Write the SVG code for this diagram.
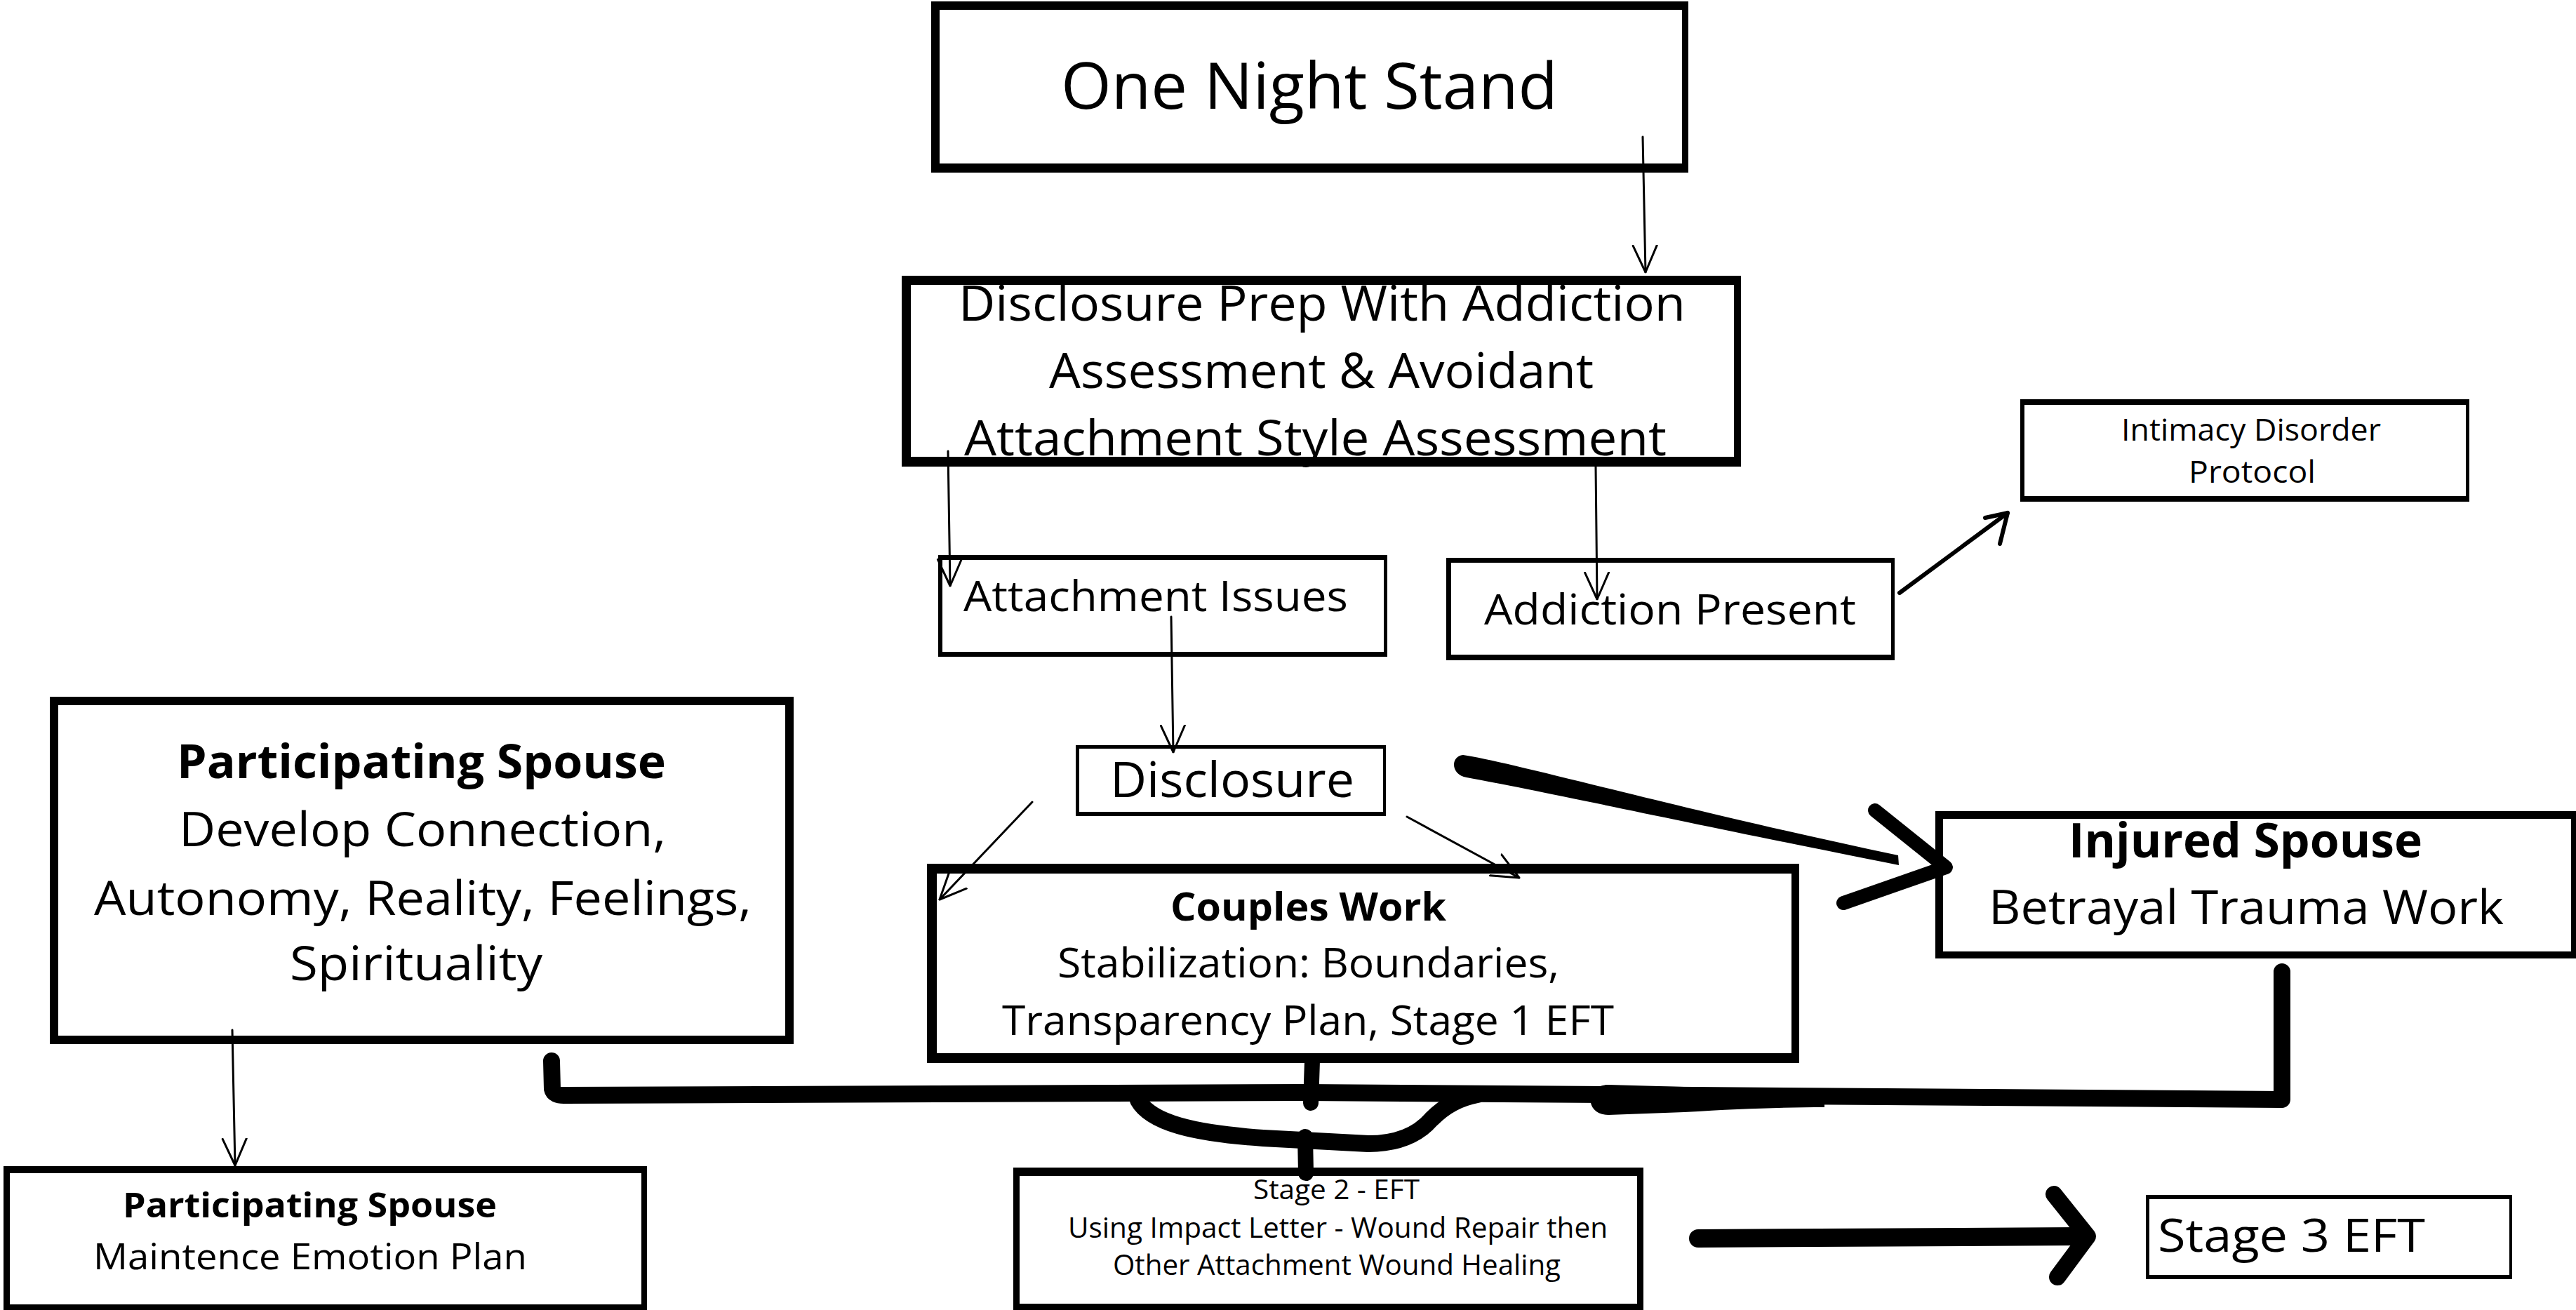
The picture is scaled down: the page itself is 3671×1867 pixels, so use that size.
<svg xmlns="http://www.w3.org/2000/svg" width="3671" height="1867" viewBox="0 0 3671 1867">
<defs>
<style>
.frame{fill:#000;fill-rule:evenodd;stroke:none}
text{font-family:"Open Sans","Noto Sans","Liberation Sans",sans-serif;fill:#000}
.b{font-weight:700}
.thin{fill:none;stroke:#000;stroke-width:3;stroke-linecap:round;marker-end:url(#v)}
.head{fill:none;stroke:#000;stroke-linecap:round;stroke-linejoin:round}
.brush{fill:none;stroke:#000;stroke-linecap:round;stroke-linejoin:round}
</style>
<marker id="v" markerUnits="userSpaceOnUse" viewBox="0 0 40 40" markerWidth="40" markerHeight="40" refX="39" refY="20" orient="auto">
<path d="M1,3 L39,20 L1,37" fill="none" stroke="#000" stroke-width="3" stroke-linecap="round" stroke-linejoin="round"/>
</marker>
</defs>
<rect width="3671" height="1867" fill="#fff"/>

<g id="node-one-night-stand">
<path class="frame" d="M1327,2 H2406 V246 H1327 Z M1339,14 V233 H2397 V14 Z"/>
<text x="1512" y="155" font-size="91" textLength="708" lengthAdjust="spacingAndGlyphs">One Night Stand</text>
</g>

<g id="node-disclosure-prep">
<path class="frame" d="M1285,393 H2481 V665 H1285 Z M1298,406 V651 H2471 V406 Z"/>
<text x="1366" y="457" font-size="69" textLength="1036" lengthAdjust="spacingAndGlyphs">Disclosure Prep With Addiction</text>
<text x="1495" y="553" font-size="69" textLength="776" lengthAdjust="spacingAndGlyphs">Assessment &amp; Avoidant</text>
<text x="1374" y="649" font-size="69" textLength="1001" lengthAdjust="spacingAndGlyphs">Attachment Style Assessment</text>
</g>

<g id="node-attachment-issues">
<path class="frame" d="M1337,791 H1977 V936 H1337 Z M1343,798 V929 H1972 V798 Z"/>
<text x="1373" y="871" font-size="61" textLength="548" lengthAdjust="spacingAndGlyphs">Attachment Issues</text>
</g>

<g id="node-addiction-present">
<path class="frame" d="M2061,795 H2700 V941 H2061 Z M2068,802 V933 H2695 V802 Z"/>
<text x="2115" y="890" font-size="61" textLength="530" lengthAdjust="spacingAndGlyphs">Addiction Present</text>
</g>

<g id="node-intimacy-disorder">
<path class="frame" d="M2879,569 H3519 V715 H2879 Z M2885,577 V707 H3514 V577 Z"/>
<text x="3023" y="628" font-size="43" textLength="370" lengthAdjust="spacingAndGlyphs">Intimacy Disorder</text>
<text x="3119" y="688" font-size="43" textLength="181" lengthAdjust="spacingAndGlyphs">Protocol</text>
</g>

<g id="node-participating-spouse">
<path class="frame" d="M71,993 H1131 V1488 H71 Z M83,1005 V1476 H1119 V1005 Z"/>
<text class="b" x="252" y="1109" font-size="66" textLength="697" lengthAdjust="spacingAndGlyphs">Participating Spouse</text>
<text x="255" y="1206" font-size="67" textLength="694" lengthAdjust="spacingAndGlyphs">Develop Connection,</text>
<text x="134" y="1304" font-size="67" textLength="937" lengthAdjust="spacingAndGlyphs">Autonomy, Reality, Feelings,</text>
<text x="413" y="1397" font-size="67" textLength="360" lengthAdjust="spacingAndGlyphs">Spirituality</text>
</g>

<g id="node-participating-maintenance">
<path class="frame" d="M5,1662 H922 V1867 H5 Z M14,1672 V1859 H914 V1672 Z"/>
<text class="b" x="175" y="1735" font-size="49" textLength="533" lengthAdjust="spacingAndGlyphs">Participating Spouse</text>
<text x="133" y="1809" font-size="52" textLength="618" lengthAdjust="spacingAndGlyphs">Maintence Emotion Plan</text>
</g>

<g id="node-disclosure">
<path class="frame" d="M1533,1062 H1975 V1163 H1533 Z M1538,1067 V1157 H1971 V1067 Z"/>
<text x="1582" y="1136" font-size="70" textLength="348" lengthAdjust="spacingAndGlyphs">Disclosure</text>
</g>

<g id="node-couples-work">
<path class="frame" d="M1321,1231 H2564 V1515 H1321 Z M1335,1245 V1501 H2553 V1245 Z"/>
<text class="b" x="1668" y="1312" font-size="56" textLength="393" lengthAdjust="spacingAndGlyphs">Couples Work</text>
<text x="1507" y="1393" font-size="58" textLength="715" lengthAdjust="spacingAndGlyphs">Stabilization: Boundaries,</text>
<text x="1428" y="1475" font-size="58" textLength="872" lengthAdjust="spacingAndGlyphs">Transparency Plan, Stage 1 EFT</text>
</g>

<g id="node-injured-spouse">
<path class="frame" d="M2758,1156 H3671 V1366 H2758 Z M2769,1167 V1356 H3664 V1167 Z"/>
<text class="b" x="2948" y="1222" font-size="68" textLength="504" lengthAdjust="spacingAndGlyphs">Injured Spouse</text>
<text x="2834" y="1317" font-size="68" textLength="734" lengthAdjust="spacingAndGlyphs">Betrayal Trauma Work</text>
</g>

<g id="node-stage2">
<path class="frame" d="M1444,1664 H2342 V1867 H1444 Z M1453,1676 V1858 H2333 V1676 Z"/>
<text x="1786" y="1709" font-size="38" textLength="237" lengthAdjust="spacingAndGlyphs">Stage 2 - EFT</text>
<text x="1522" y="1764" font-size="40" textLength="769" lengthAdjust="spacingAndGlyphs">Using Impact Letter - Wound Repair then</text>
<text x="1586" y="1817" font-size="40" textLength="638" lengthAdjust="spacingAndGlyphs">Other Attachment Wound Healing</text>
</g>

<g id="node-stage3">
<path class="frame" d="M3058,1703 H3580 V1823 H3058 Z M3063,1709 V1817 H3576 V1709 Z"/>
<text x="3075" y="1784" font-size="66" textLength="381" lengthAdjust="spacingAndGlyphs">Stage 3 EFT</text>
</g>

<g id="connectors">
<path class="thin" d="M2341,195 L2345,388"/>
<path class="thin" d="M1351,643 L1354,835"/>
<path class="thin" d="M2274,665 L2276,854"/>
<path class="thin" d="M1669,879 L1672,1072"/>
<path class="thin" d="M331,1468 L335,1661"/>
<path class="thin" d="M1471,1143 L1339,1282"/>
<path class="thin" stroke-width="4" d="M2005,1164 L2165,1251"/>
<path class="head" stroke-width="6" d="M2707,845 L2861,731"/>
<path class="head" stroke-width="6" d="M2829,738 L2861,731 L2850,775"/>
<path d="M2085,1076 C2150,1085 2400,1155 2705,1219 L2706,1233 C2400,1172 2200,1128 2090,1108 C2068,1105 2066,1078 2085,1076 Z" fill="#000"/>
<path class="head" stroke-width="20" d="M2672,1155 L2773,1236 L2627,1287"/>
<path class="brush" stroke-width="24" d="M786,1512 L787,1552 Q789,1562 806,1561 L1860,1557 L3252,1567 L3252,1385"/>
<path d="M2292,1546 C2258,1546 2258,1589 2292,1589 L2400,1585 C2480,1580 2540,1578 2600,1578 L2600,1556 C2540,1556 2480,1552 2400,1549 Z" fill="#000"/>
<path class="brush" stroke-width="22" d="M1870,1512 L1868,1572"/>
<path class="brush" stroke-width="24" d="M1622,1568 C1640,1600 1700,1615 1800,1622 L1950,1630 C1990,1630 2020,1618 2040,1595 C2060,1575 2080,1565 2105,1560"/>
<path class="brush" stroke-width="22" d="M1860,1620 L1861,1672"/>
<path class="brush" stroke-width="26" d="M2420,1765 L2960,1762"/>
<path class="head" stroke-width="24" d="M2927,1702 L2975,1762 L2932,1820"/>
</g>
</svg>
